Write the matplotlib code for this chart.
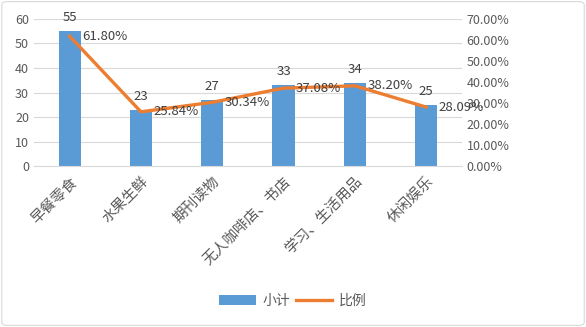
import matplotlib
matplotlib.use("Agg")
import matplotlib.pyplot as plt
from matplotlib.patches import FancyBboxPatch

plt.rcParams['font.family'] = ['Noto Sans CJK SC', 'DejaVu Sans']

# datos
categorias = ['早餐零食', '水果生鲜', '期刊读物', '无人咖啡店、书店', '学习、生活用品', '休闲娱乐']
subtotal = [55, 23, 27, 33, 34, 25]
proporcion = [61.80, 25.84, 30.34, 37.08, 38.20, 28.09]

azul = '#5B9BD5'
naranja = '#ED7D31'
gris = '#595959'

fig = plt.figure(figsize=(5.86, 3.27), dpi=100)
ax = fig.add_axes([0.058, 0.492, 0.730, 0.450])
ax2 = ax.twinx()

x = list(range(len(categorias)))
barras = ax.bar(x, subtotal, width=0.31, color=azul, zorder=2, label='小计')
linea, = ax2.plot(x, proporcion, color=naranja, lw=2.4, zorder=3, label='比例')

ax.set_xlim(-0.5, len(categorias) - 0.5)
ax.set_ylim(0, 60)
ax.set_yticks(range(0, 61, 10))
ax2.set_ylim(0, 70)
ax2.set_yticks(range(0, 71, 10))
ax2.set_yticklabels(['%.2f%%' % v for v in range(0, 71, 10)])

ax.grid(axis='y', color='#D9D9D9', lw=0.8, zorder=0)
ax.set_axisbelow(True)
for a in (ax, ax2):
    for s in a.spines.values():
        s.set_visible(False)
    a.tick_params(length=0, colors=gris, labelsize=9)
ax.spines['bottom'].set_visible(True)
ax.spines['bottom'].set_color('#D9D9D9')

ax.set_xticks(x)
ax.set_xticklabels(categorias, rotation=45, ha='right', va='top',
                   rotation_mode='anchor', fontsize=10.5, color=gris)
ax.tick_params(axis='x', pad=6)

# etiquetas
for xi, v in zip(x, subtotal):
    ax.annotate(str(v), (xi, v), xytext=(0, 5), textcoords='offset points',
                ha='center', va='bottom', fontsize=9.5, color='#404040')
ax2.set_zorder(ax.get_zorder() + 1)
ax2.patch.set_visible(False)
for xi, v in zip(x, proporcion):
    ax2.annotate('%.2f%%' % v, (xi, v), xytext=(9, 0), textcoords='offset points',
                 ha='left', va='center', fontsize=9.5, color='#404040', zorder=5)

fig.legend(handles=[barras, linea], labels=['小计', '比例'], loc='center',
           bbox_to_anchor=(0.5, 0.08), ncol=2, frameon=False, fontsize=10,
           handlelength=2.6, handletextpad=0.5, columnspacing=0.4,
           labelcolor=gris)

borde = FancyBboxPatch((0.003, 0.005), 0.994, 0.99, boxstyle='round,pad=0,rounding_size=0.01',
                       transform=fig.transFigure, fill=False, ec='#D9D9D9', lw=0.8)
fig.patches.append(borde)

fig.savefig('out.png', dpi=100)
